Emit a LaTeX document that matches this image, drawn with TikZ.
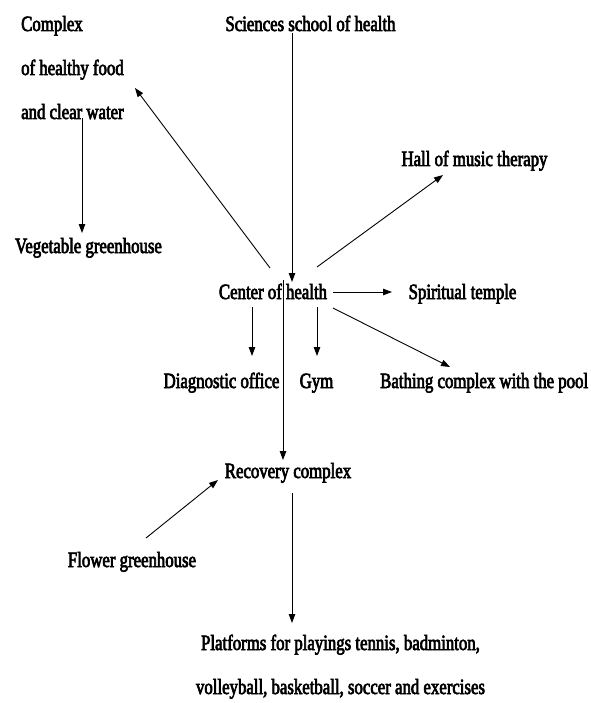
\documentclass[tikz,border=0pt]{standalone}
\usepackage{fontspec}
\setmainfont[FakeStretch=0.77,FakeBold=3]{Liberation Serif}
\usetikzlibrary{arrows.meta,calc}

\begin{document}
\begin{tikzpicture}[x=1pt, y=-1pt,
    every node/.style={inner sep=0pt, font=\fontsize{21.8}{44}\selectfont},
    arr/.style={-{Triangle[length=9pt,width=6.5pt]}, line width=0.9pt}]
  \useasboundingbox (0,0) rectangle (590,703);
  % Places
  \node[anchor=base] (school) at (310.5,31) {Sciences school of health};
  \node[anchor=base west, align=left] (food) at (21,119) {Complex\\of healthy food\\and clear water};
  \node[anchor=base] (hall) at (474.5,166) {Hall of music therapy};
  \node[anchor=base] (veg) at (88.5,253) {Vegetable greenhouse};
  \node[anchor=base] (ctr) at (273,299) {Center of health};
  \node[anchor=base] (temple) at (462.5,299) {Spiritual temple};
  \node[anchor=base] (diag) at (221.5,388) {Diagnostic office};
  \node[anchor=base] (gym) at (316.5,388) {Gym};
  \node[anchor=base west] (bath) at (380,388) {Bathing complex with the pool};
  \node[anchor=base] (rec) at (288,478) {Recovery complex};
  \node[anchor=base] (flower) at (132,567) {Flower greenhouse};
  \node[anchor=base, align=center] (sport) at (340.5,694)
    {Platforms for playings tennis, badminton,\\volleyball, basketball, soccer and exercises};
  % Links
  \draw[arr] ($(school.base)+(-18.5,2)$) -- ($(ctr.base)+(19,-17)$);
  \draw[arr] ($(ctr.base)+(-3,-31)$) -- ($(food.base west)+(114,-31)$);
  \draw[arr] ($(ctr.base)+(44,-32)$) -- ($(hall.base)+(-31.5,9)$);
  \draw[arr] ($(food.base west)+(61,-1)$) -- ($(veg.base)+(-6.5,-20)$);
  \draw[arr] ($(ctr.base)+(60,-7)$) -- ($(temple.base)+(-70.5,-7)$);
  \draw[arr] ($(ctr.base)+(-21,8)$) -- ($(diag.base)+(30.5,-32)$);
  \draw[arr] ($(ctr.base)+(44,8)$) -- ($(gym.base)+(0.5,-32)$);
  \draw[arr] ($(ctr.base)+(60,9)$) -- ($(bath.base west)+(70,-21)$);
  \draw[arr] ($(ctr.base)+(10,-19)$) -- ($(rec.base)+(-5,-18)$);
  \draw[arr] ($(flower.base)+(14,-29)$) -- ($(rec.base)+(-70,2)$);
  \draw[arr] ($(rec.base)+(4,15)$) -- ($(sport.base)+(-48.5,-71)$);
\end{tikzpicture}
\end{document}
